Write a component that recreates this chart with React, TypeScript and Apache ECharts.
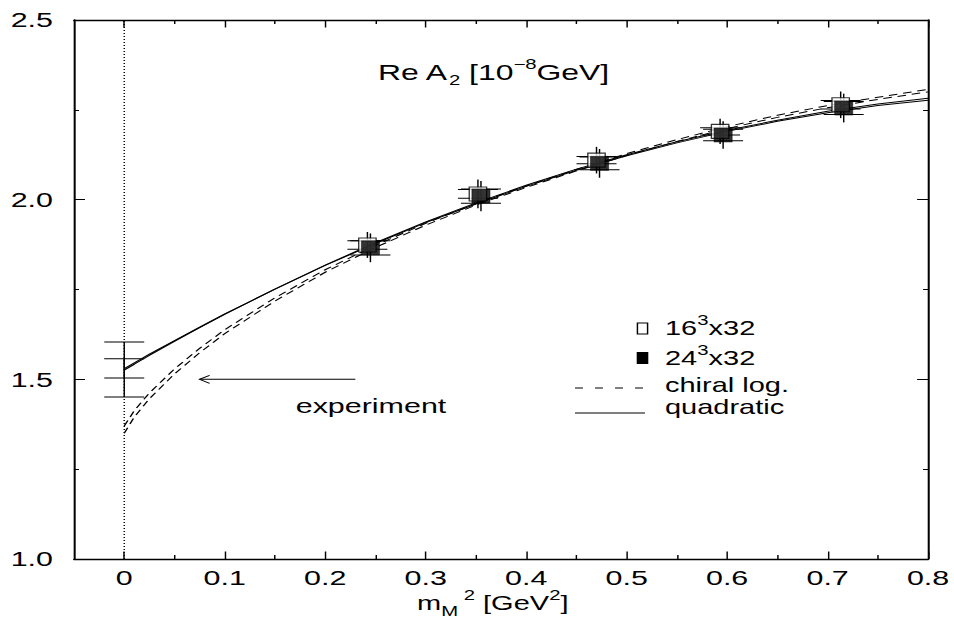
import React, { useEffect, useRef } from 'react';
import * as echarts from 'echarts';

// horizontal stretch of the reference drawing (text and symbols are wider than tall)
const SX = 1.45;
const W = 954;
const H = 629;
const FONT = 'Liberation Sans, Arial, Helvetica, sans-serif';

const X_MAJOR = [0, 0.1, 0.2, 0.3, 0.4, 0.5, 0.6, 0.7, 0.8];
const X_MINOR = [0.05, 0.15, 0.25, 0.35, 0.45, 0.55, 0.65, 0.75];

// lattice data: 16^3x32
const M2_16 = [0.242, 0.352, 0.47, 0.593, 0.713];
const A2_16 = [1.874, 2.016, 2.11, 2.19, 2.264];
const STEM_16 = [0.036, 0.04, 0.037, 0.035, 0.037];
const BAR_16 = [0.012, 0.012, 0.01, 0.01, 0.012];

// lattice data: 24^3x32
const M2_24 = [0.245, 0.355, 0.473, 0.596, 0.716];
const A2_24 = [1.866, 2.01, 2.101, 2.18, 2.255];
const STEM_24 = [0.04, 0.042, 0.04, 0.038, 0.04];
const BAR_24 = [0.02, 0.02, 0.018, 0.016, 0.018];

// extrapolated values at m^2 = 0
const EXTRAP_M2 = [0, 0];
const EXTRAP_A2 = [1.5275, 1.5305];
const EXTRAP_ERR = [0.0765, 0.0265];

// fit curves
const FIT_X = [0, 0.01, 0.025, 0.05, 0.075, 0.1, 0.15, 0.2, 0.25, 0.3, 0.35, 0.4, 0.45, 0.5, 0.55, 0.6, 0.65, 0.7, 0.75, 0.8];
const QUAD_24 = [1.53, 1.546, 1.57, 1.608, 1.645, 1.682, 1.751, 1.817, 1.878, 1.936, 1.988, 2.037, 2.082, 2.122, 2.158, 2.19, 2.218, 2.242, 2.262, 2.277];
const QUAD_16 = [1.526, 1.542, 1.567, 1.606, 1.644, 1.681, 1.751, 1.818, 1.88, 1.938, 1.991, 2.04, 2.085, 2.125, 2.161, 2.193, 2.221, 2.246, 2.266, 2.282];
const CHLOG_16 = [1.37, 1.413, 1.462, 1.529, 1.586, 1.638, 1.727, 1.805, 1.873, 1.934, 1.989, 2.038, 2.084, 2.128, 2.167, 2.203, 2.235, 2.262, 2.285, 2.307];
const CHLOG_24 = [1.35, 1.395, 1.446, 1.515, 1.574, 1.627, 1.718, 1.798, 1.867, 1.929, 1.985, 2.034, 2.08, 2.123, 2.162, 2.198, 2.229, 2.256, 2.279, 2.3];

// experimental value arrow
const EXPERIMENT_A2 = 1.5;
const ARROW_FROM = 0.23;
const ARROW_TO = 0.075;

const px = (v: number) => v / SX;

function glyph(_params: any, api: any) {
  const x = api.value(0);
  const y = api.value(1);
  const s = api.value(2);
  const b = api.value(3);
  const top = api.coord([x, y + s]);
  const bot = api.coord([x, y - s]);
  const bt = api.coord([x, y + b]);
  const bb = api.coord([x, y - b]);
  const cx = top[0];
  const hw = px(20);
  const st = { stroke: '#000', lineWidth: 1 };
  return {
    type: 'group',
    children: [
      { type: 'line', shape: { x1: cx, y1: top[1], x2: cx, y2: bot[1] }, style: st },
      { type: 'line', shape: { x1: cx - hw, y1: bt[1], x2: cx + hw, y2: bt[1] }, style: st },
      { type: 'line', shape: { x1: cx - hw, y1: bb[1], x2: cx + hw, y2: bb[1] }, style: st },
    ],
  };
}

function arrow(_params: any, api: any) {
  const a = api.coord([api.value(0), api.value(1)]);
  const b = api.coord([api.value(2), api.value(1)]);
  const L = px(10);
  const hw = 4;
  const st = { stroke: '#000', lineWidth: 1, fill: 'none' };
  return {
    type: 'group',
    children: [
      { type: 'line', shape: { x1: a[0], y1: a[1], x2: b[0], y2: b[1] }, style: st },
      { type: 'polyline', shape: { points: [[b[0] + L, b[1] - hw], [b[0], b[1]], [b[0] + L, b[1] + hw]] }, style: st },
    ],
  };
}

const richBase = (fs: number) => ({
  n: { fontSize: fs, fontFamily: FONT, lineHeight: 30, verticalAlign: 'middle', fill: '#000' },
  sup: { fontSize: 14, fontFamily: FONT, lineHeight: 14, verticalAlign: 'top', fill: '#000' },
  sub: { fontSize: 14, fontFamily: FONT, lineHeight: 12, verticalAlign: 'bottom', fill: '#000' },
});

function richText(x: number, y: number, text: string, fs = 21) {
  return {
    type: 'text',
    x: px(x),
    y,
    silent: true,
    style: {
      text,
      rich: richBase(fs),
      font: `${fs}px ${FONT}`,
      fill: '#000',
      align: 'left',
      verticalAlign: 'middle',
    },
  };
}

export default function App() {
  const ref = useRef<HTMLDivElement>(null);

  useEffect(() => {
    if (!ref.current) return;
    const chart = echarts.init(ref.current, undefined, { renderer: 'svg' });

    const axisLine = { show: true, onZero: false, lineStyle: { color: '#000', width: 1.4 } };
    const tickStyle = { color: '#000', width: 1 };
    const labelStyle = { color: '#000', fontSize: 21, fontFamily: FONT };

    const xBase = {
      type: 'value',
      min: -0.05,
      max: 0.8,
      splitLine: { show: false },
    };
    const yBase = {
      type: 'value',
      min: 1.0,
      max: 2.5,
      interval: 0.5,
      splitLine: { show: false },
      minorSplitLine: { show: false },
      axisLine,
      axisTick: { show: true, inside: true, length: px(11), lineStyle: tickStyle },
      minorTick: { show: true, splitNumber: 2, length: px(5), lineStyle: tickStyle },
    };

    const lineSeries = (data: number[], dashed: boolean) => ({
      type: 'line',
      data: FIT_X.map((x, i) => [x, data[i]]),
      showSymbol: false,
      symbol: 'none',
      silent: true,
      z: 3,
      lineStyle: { color: '#000', width: 1, type: dashed ? [6, 4] : 'solid' },
    });

    chart.setOption({
      animation: false,
      backgroundColor: '#fff',
      grid: { left: px(74), right: px(26), top: 20, bottom: 70, containLabel: false },
      xAxis: [
        {
          ...xBase,
          position: 'bottom',
          axisLine,
          axisTick: { show: true, inside: true, length: 7.5, customValues: X_MAJOR, lineStyle: tickStyle },
          axisLabel: {
            ...labelStyle,
            margin: 8,
            customValues: X_MAJOR,
            formatter: (v: number) => (v === 0 ? '0' : v.toFixed(1)),
          },
        },
        {
          ...xBase,
          position: 'bottom',
          axisLine: { show: false },
          axisTick: { show: true, inside: true, length: 4, customValues: X_MINOR, lineStyle: tickStyle },
          axisLabel: { show: false },
        },
        {
          ...xBase,
          position: 'top',
          axisLine,
          axisTick: { show: true, inside: true, length: 7.5, customValues: X_MAJOR, lineStyle: tickStyle },
          axisLabel: { show: false },
        },
        {
          ...xBase,
          position: 'top',
          axisLine: { show: false },
          axisTick: { show: true, inside: true, length: 4, customValues: X_MINOR, lineStyle: tickStyle },
          axisLabel: { show: false },
        },
      ],
      yAxis: [
        {
          ...yBase,
          position: 'left',
          axisLabel: { ...labelStyle, margin: px(21), formatter: (v: number) => v.toFixed(1) },
        },
        {
          ...yBase,
          position: 'right',
          axisLabel: { show: false },
        },
      ],
      series: [
        {
          type: 'line',
          data: [[0, 1.0], [0, 2.5]],
          showSymbol: false,
          symbol: 'none',
          silent: true,
          z: 1,
          lineStyle: { color: '#000', width: 1, type: [1, 2] },
        },
        lineSeries(QUAD_24, false),
        lineSeries(QUAD_16, false),
        lineSeries(CHLOG_16, true),
        lineSeries(CHLOG_24, true),
        {
          type: 'custom',
          renderItem: glyph,
          silent: true,
          z: 4,
          data: EXTRAP_M2.map((x, i) => [x, EXTRAP_A2[i], EXTRAP_ERR[i], EXTRAP_ERR[i]]),
        },
        {
          type: 'custom',
          renderItem: glyph,
          silent: true,
          z: 4,
          data: M2_16.map((x, i) => [x, A2_16[i], STEM_16[i], BAR_16[i]]),
        },
        {
          type: 'custom',
          renderItem: glyph,
          silent: true,
          z: 4,
          data: M2_24.map((x, i) => [x, A2_24[i], STEM_24[i], BAR_24[i]]),
        },
        {
          type: 'custom',
          renderItem: arrow,
          silent: true,
          z: 4,
          data: [[ARROW_FROM, EXPERIMENT_A2, ARROW_TO]],
        },
        {
          name: '16^3x32',
          type: 'scatter',
          data: M2_16.map((x, i) => [x, A2_16[i]]),
          symbol: 'rect',
          symbolSize: [12, 14],
          silent: true,
          z: 5,
          itemStyle: { color: '#fff', borderColor: '#000', borderWidth: 1 },
        },
        {
          name: '24^3x32',
          type: 'scatter',
          data: M2_24.map((x, i) => [x, A2_24[i]]),
          symbol: 'rect',
          symbolSize: [12.5, 14],
          silent: true,
          z: 6,
          itemStyle: { color: '#000', borderColor: '#000', borderWidth: 0.5 },
        },
      ],
      graphic: [
        richText(378, 72, '{n|Re A}{sub|2}{n| [10}{sup|−8}{n|GeV]}', 22),
        richText(417, 603, '{n|m}{sub|M}{sup| 2}{n| [GeV}{sup|2}{n|]}', 20),
        {
          type: 'text',
          x: px(371),
          y: 406,
          silent: true,
          style: { text: 'experiment', font: `21px ${FONT}`, fill: '#000', align: 'center', verticalAlign: 'middle' },
        },
        {
          type: 'rect',
          silent: true,
          shape: { x: px(642.5) - 3.5, y: 323, width: 7, height: 11 },
          style: { fill: '#fff', stroke: '#000', lineWidth: 1 },
        },
        {
          type: 'rect',
          silent: true,
          shape: { x: px(642.5) - 3.5, y: 352.5, width: 7, height: 11 },
          style: { fill: '#000', stroke: '#000', lineWidth: 1 },
        },
        {
          type: 'line',
          silent: true,
          shape: { x1: px(575), y1: 388, x2: px(645), y2: 388 },
          style: { stroke: '#000', lineWidth: 1, lineDash: [5.5, 8.3] },
        },
        {
          type: 'line',
          silent: true,
          shape: { x1: px(575), y1: 413, x2: px(645), y2: 413 },
          style: { stroke: '#000', lineWidth: 1 },
        },
        richText(665, 328, '{n|16}{sup|3}{n|x32}', 20),
        richText(665, 358, '{n|24}{sup|3}{n|x32}', 20),
        richText(665, 385, '{n|chiral log.}', 20),
        richText(665, 407, '{n|quadratic}', 20),
      ],
    });

    return () => chart.dispose();
  }, []);

  return (
    <div
      style={{
        position: 'fixed',
        left: 0,
        top: 0,
        width: W,
        height: H,
        overflow: 'hidden',
        background: '#fff',
      }}
    >
      <div
        ref={ref}
        style={{
          width: W / SX,
          height: H,
          transform: `scaleX(${SX})`,
          transformOrigin: '0 0',
        }}
      />
    </div>
  );
}
